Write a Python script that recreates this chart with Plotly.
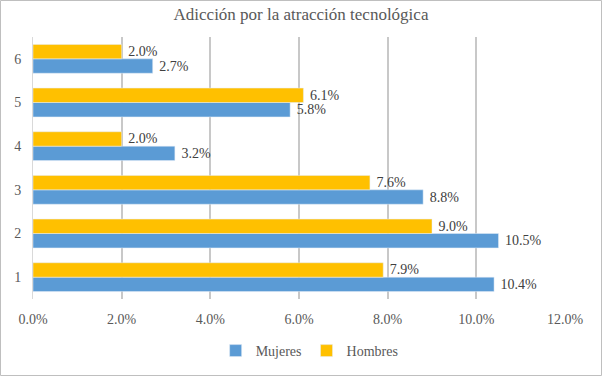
import plotly.graph_objects as go

categories = ["1", "2", "3", "4", "5", "6"]
mujeres = [10.4, 10.5, 8.8, 3.2, 5.8, 2.7]
hombres = [7.9, 9.0, 7.6, 2.0, 6.1, 2.0]
x_ticks = [0, 2, 4, 6, 8, 10, 12]

FONT = "Liberation Serif"
W, H = 602, 376
ml, mr, mt, mb = 33, 37, 37, 77
pw, ph = W - ml - mr, H - mt - mb

fig = go.Figure()
fig.add_trace(go.Bar(
    y=categories, x=mujeres, orientation="h", name="Mujeres",
    marker=dict(color="#5B9BD5"),
    texttemplate="\u00a0%{x:.1f}%", textposition="outside", constraintext="none",
    textfont=dict(family=FONT, size=14, color="#404040"), cliponaxis=False,
))
fig.add_trace(go.Bar(
    y=categories, x=hombres, orientation="h", name="Hombres",
    marker=dict(color="#FFC000"),
    texttemplate="\u00a0%{x:.1f}%", textposition="outside", constraintext="none",
    textfont=dict(family=FONT, size=14, color="#404040"), cliponaxis=False,
))

fig.update_layout(
    width=W, height=H,
    margin=dict(l=ml, r=mr, t=mt, b=mb, autoexpand=False),
    paper_bgcolor="white", plot_bgcolor="white",
    barmode="group", bargap=0.34, bargroupgap=0,
    font=dict(family=FONT, size=14, color="#595959"),
    title=dict(text="Adicción por la atracción tecnológica", x=0.5, xref="container",
               y=1 - 14 / H, yanchor="middle",
               font=dict(family=FONT, size=17, color="#595959")),
    legend=dict(orientation="h", x=0.52, xanchor="center", y=(ph - (351 - mt)) / ph,
                yanchor="middle", font=dict(family="Liberation Serif, serif", size=14, color="#595959"),
                traceorder="normal", itemwidth=30),
    showlegend=True,
)
fig.update_xaxes(
    range=[0, 12], tickvals=x_ticks, ticktext=[f"{v:.1f}%" for v in x_ticks],
    showgrid=True, gridcolor="#C8C8C8", gridwidth=2, zeroline=False,
    showline=False, ticks="", tickfont=dict(family=FONT, size=14, color="#595959"),
    ticklabelstandoff=10, automargin=False,
)
fig.update_yaxes(
    showgrid=False, showline=True, linecolor="#D9D9D9", linewidth=1,
    ticks="", tickfont=dict(family=FONT, size=14, color="#595959"),
    ticklabelstandoff=8, automargin=False,
)
fig.add_shape(type="rect", xref="paper", yref="paper",
              x0=(0.5 - ml) / pw, x1=(W - 0.5 - ml) / pw,
              y0=(ph - (H - 0.5 - mt)) / ph, y1=(ph - (0.5 - mt)) / ph,
              line=dict(color="#BFBFBF", width=1), layer="above")

fig.write_html("out.html", config={"displayModeBar": False},
               post_script="document.body.style.margin='0';")
